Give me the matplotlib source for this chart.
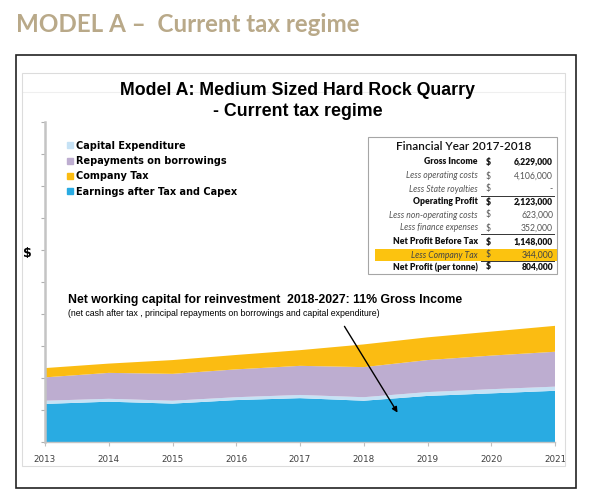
import matplotlib
matplotlib.use('Agg')
import matplotlib.pyplot as plt
from matplotlib.patches import Rectangle, Patch, FancyArrowPatch

plt.rcParams['font.family'] = ['DejaVu Sans']

# data (stack values, arbitrary $ units)
years = [2013, 2014, 2015, 2016, 2017, 2018, 2019, 2020, 2021]
earnings = [1.19, 1.26, 1.20, 1.31, 1.37, 1.29, 1.44, 1.52, 1.60]
capex = [0.10, 0.09, 0.09, 0.09, 0.10, 0.11, 0.12, 0.13, 0.13]
repayments = [0.73, 0.81, 0.84, 0.87, 0.91, 0.94, 1.00, 1.05, 1.09]
company_tax = [0.29, 0.29, 0.43, 0.45, 0.49, 0.71, 0.71, 0.75, 0.81]

# financial year table
fy_labels = ['Gross Income', 'Less operating costs', 'Less State royalties', 'Operating Profit',
             'Less non-operating costs', 'Less finance expenses', 'Net Profit Before Tax',
             'Less Company Tax', 'Net Profit (per tonne)']
fy_values = ['6,229,000', '4,106,000', '-', '2,123,000', '623,000', '352,000',
             '1,148,000', '344,000', '804,000']
fy_bold = [True, False, False, True, False, False, True, False, True]

c_earn = '#29abe2'
c_capex = '#c6e2f5'
c_repay = '#bdadd0'
c_tax = '#fbbc12'

W, H = 600, 499
fig = plt.figure(figsize=(W / 100, H / 100), dpi=100)


def fx(x):
    return x / W


def fy(y):
    return 1 - y / H


# slide heading
fig.text(fx(16), fy(32), 'MODEL A \u2013  Current tax regime', family='Lato', weight='bold',
         fontsize=17.4, color='#b9a989', va='baseline', ha='left')

# outer black frame and inner chart frame
fig.patches.append(Rectangle((fx(16), fy(488)), fx(576) - fx(16), fy(55) - fy(488),
                             transform=fig.transFigure, fill=False, edgecolor='#222222', lw=1.2))
fig.patches.append(Rectangle((fx(22), fy(466)), fx(565) - fx(22), fy(73) - fy(466),
                             transform=fig.transFigure, fill=False, edgecolor='#dcdcdc', lw=0.8))
fig.lines.append(plt.Line2D([fx(22), fx(565)], [fy(92), fy(92)], transform=fig.transFigure,
                            color='#efefef', lw=0.8, zorder=-1))

ax = fig.add_axes([fx(45), fy(442), fx(555) - fx(45), fy(122) - fy(442)])
ax.stackplot(years, earnings, capex, repayments, company_tax,
             colors=[c_earn, c_capex, c_repay, c_tax], lw=0)
ax.set_xlim(2013, 2021)
ax.set_ylim(0, 10)
ax.set_yticks(range(0, 11))
ax.set_yticklabels([])
ax.set_xticks(years)
ax.set_xticklabels([str(y) for y in years], fontsize=6.3, color='#404040')
ax.tick_params(axis='y', length=3, color='#b0b0b0', width=0.8)
ax.tick_params(axis='x', length=3, color='#c0c0c0', width=0.8, pad=6)
for s in ['top', 'right']:
    ax.spines[s].set_visible(False)
ax.spines['left'].set_color('#c4c4c4')
ax.spines['left'].set_linewidth(1.8)
ax.spines['bottom'].set_color('#c4c4c4')
ax.spines['bottom'].set_linewidth(1.0)
ax.patch.set_alpha(0)

handles = [Patch(color=c_capex), Patch(color=c_repay), Patch(color=c_tax), Patch(color=c_earn)]
labels = ['Capital Expenditure', 'Repayments on borrowings', 'Company Tax', 'Earnings after Tax and Capex']
ax.legend(handles, labels, loc='upper left', bbox_to_anchor=(fx(58), fy(132)),
          bbox_transform=fig.transFigure, frameon=False, handlelength=0.6, handleheight=0.6,
          handletextpad=0.3, labelspacing=0.55, prop={'weight': 'bold', 'size': 7})

fig.text(fx(27), fy(253), '$', fontsize=9, weight='bold', ha='center', va='center')

fig.text(fx(298), fy(95), 'Model A: Medium Sized Hard Rock Quarry', family='Liberation Sans',
         weight='bold', fontsize=12.8, ha='center', va='baseline')
fig.text(fx(298), fy(116), '- Current tax regime', family='Liberation Sans',
         weight='bold', fontsize=12.8, ha='center', va='baseline')

fig.text(fx(68), fy(300), 'Net working capital for reinvestment  2018-2027: 11% Gross Income',
         family='Liberation Sans', weight='bold', fontsize=8.8, ha='left', va='center')
fig.text(fx(68), fy(314), '(net cash after tax , principal repayments on borrowings and capital expenditure)',
         family='Liberation Sans', fontsize=6.3, ha='left', va='center')

fig.patches.append(FancyArrowPatch(
    (fx(343), fy(324)), (fx(399), fy(415)), transform=fig.transFigure,
    arrowstyle='-|>', mutation_scale=8, color='black', lw=1.0))

# table
tx0, tx1, ty0, ty1 = 368, 557, 137, 274
fig.patches.append(Rectangle((fx(tx0), fy(ty1)), fx(tx1) - fx(tx0), fy(ty0) - fy(ty1),
                             transform=fig.transFigure, facecolor='white', edgecolor='#a6a6a6', lw=0.8))
fig.text(fx(464), fy(147), 'Financial Year 2017-2018', family='Lato', weight='semibold',
         fontsize=8.5, ha='center', va='center', color='#111111')
row_y = [162, 176, 189, 202, 215, 228, 242, 255, 267]
for i, (lab, val, b) in enumerate(zip(fy_labels, fy_values, fy_bold)):
    y = row_y[i]
    if lab == 'Less Company Tax':
        fig.patches.append(Rectangle((fx(375), fy(261)), fx(557) - fx(375), fy(249) - fy(261),
                                     transform=fig.transFigure, facecolor='#fcc30f', edgecolor='none'))
    col = '#111111' if b else '#555555'
    if lab == 'Less Company Tax':
        col = '#444444'
    style = 'normal' if b else 'italic'
    w = 'heavy' if b else 'normal'
    fig.text(fx(478), fy(y), lab, family='Lato', fontsize=6.2, ha='right', va='center',
             color=col, style=style, weight=w)
    fig.text(fx(488), fy(y), '$', family='Lato', fontsize=6.2, ha='center', va='center',
             color=col, weight=w)
    fig.text(fx(553), fy(y), val, family='Lato', fontsize=6.2, ha='right', va='center',
             color=col, weight=w)
for yy in [196, 234, 261]:
    fig.lines.append(plt.Line2D([fx(481), fx(554)], [fy(yy), fy(yy)], transform=fig.transFigure,
                                color='#333333', lw=0.7))

fig.savefig('out.png', dpi=100)
